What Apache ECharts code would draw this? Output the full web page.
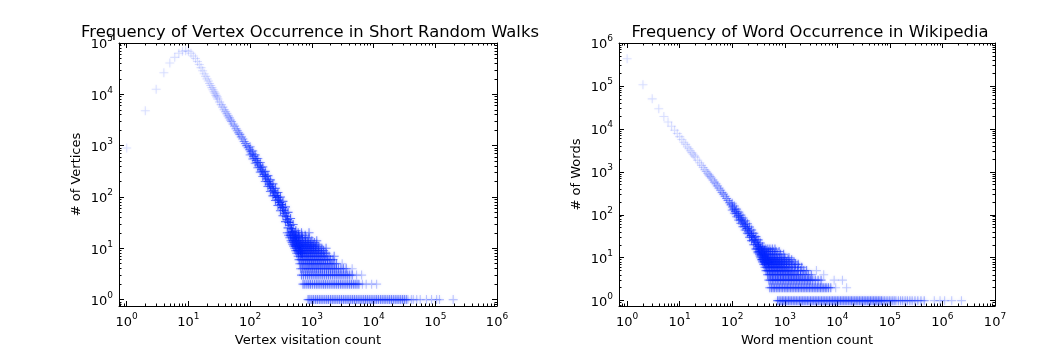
<!DOCTYPE html>
<html><head><meta charset="utf-8">
<script src="https://cdn.jsdelivr.net/npm/echarts@6/dist/echarts.min.js"></script>
<style>html,body{margin:0;padding:0;background:#fff}#c{width:1054px;height:358px}</style>
</head><body><div id="c"></div><script>
// ---------------- DATA ----------------
const walkTitle = 'Frequency of Vertex Occurrence in Short Random Walks';
const walkXName = 'Vertex visitation count';
const walkYName = '# of Vertices';
const wikiTitle = 'Frequency of Word Occurrence in Wikipedia';
const wikiXName = 'Word mention count';
const wikiYName = '# of Words';

const walkXTicks = [1, 10, 100, 1000, 10000, 100000, 1000000];
const walkYTicks = [1, 10, 100, 1000, 10000, 100000];
const wikiXTicks = [1, 10, 100, 1000, 10000, 100000, 1000000, 10000000];
const wikiYTicks = [1, 10, 100, 1000, 10000, 100000, 1000000];

// main curve: [visitation count, number of vertices]
const walkCurve = [[1,900],[2,4800],[3,12600],[4,26300],[5,40700],[6,52500],[7,63000],[8,69000],[9,70800],[10,69000],
[11,63000],[12,56000],[13,50000],[14,43600],[15,38000],[16,33100],[17,28800],[18,25100],[19,22400],[20,20000],
[21,18200],[22,16200],[23,14800],[24,13500],[25,12300],[26,11200],[27,10500],[28,9550],[29,8900],[30,8130],
[32,7080],[34,6300],[36,5620],[38,5010],[40,4570],[42,4170],[44,3800],[46,3470],[48,3160],[50,2950],
[53,2630],[56,2400],[59,2140],[62,1950],[65,1780],[68,1660],[72,1480],[76,1350],[80,1200],[84,1100],
[88,1000],[93,912],[98,832],[103,759],[108,692],[114,617],[120,562],[126,513],[132,468],[139,417],
[146,380],[153,339],[161,309],[169,275],[178,251],[187,224],[196,200],[206,178],[216,162],[227,148],
[238,132],[250,120],[262,107],[275,98],[289,87],[303,78],[318,71],[334,62],[350,55],[367,48],
[385,42],[404,36],[424,32],[445,28],[467,24],[490,21],[514,18],[540,16],[567,14],[595,12],
[625,11],[656,9],[690,8]];
const walkSpread = [[100,950],[100,660],[110,790],[110,550],[121,660],[121,455],[133,560],[133,370],[146,470],[146,305],
[160,385],[160,250],[176,315],[176,200],[194,260],[194,160],[213,215],[213,128],[234,180],[234,105],
[257,148],[257,85],[282,122],[282,68],[310,100],[310,54],[340,82],[340,43],[374,64],[374,33],
[411,50],[411,25],[452,38],[452,18],[497,29],[497,14],[550,22],[550,11],[610,17],[610,9]];
// horizontal streaks at small integer counts: x positions per level
const walkBand1 = [870,930,1000,1070,1150,1230,1320,1410,1510,1620,1740,1860,2000,2140,2290,2450,2630,2820,3020,3240,
3470,3720,3980,4270,4570,4900,5250,5620,6030,6460,6920,7410,7940,8510,9120,9770,10500,11200,12000,12900,
13800,14800,15800,17000,18200,19500,20900,22400,24000,25700,27500,29500,31600,33900];
const walkBand2 = [720,770,830,890,950,1020,1100,1180,1260,1350,1450,1550,1660,1780,1910,2050,2200,2350,2520,2700,
2900,3100,3320,3560,3810,4090,4380,4700,5030,5390,5780];
const walkBand3 = [680,730,790,850,910,980,1050,1130,1210,1300,1400,1500,1610,1730,1860,2000,2150,2310,2480,2660,
2860,3070,3300,3550,3810,4100,4500];
const walkBand4 = [660,710,770,830,890,960,1030,1110,1190,1280,1380,1480,1600,1720,1850,1990,2140,2300,2480,2700,2950,3250,3600];
const walkBand5 = [640,690,740,800,860,920,990,1060,1140,1230,1320,1420,1530,1650,1780,1920,2100,2300,2500];
const walkBand6 = [620,670,720,780,840,900,970,1040,1120,1210,1300,1400,1520,1650,1800,2000,2200];
const walkBand7 = [600,650,700,750,810,870,940,1010,1090,1170,1260,1360,1470,1600,1750,1900,2300];
const walkBand8 = [570,610,660,710,770,830,890,960,1040,1120,1210,1310,1430,1560,1700];
const walkBand9 = [550,590,640,690,740,800,860,930,1000,1080,1170,1270,1400,1550];
const walkBand10 = [530,570,620,670,720,780,840,910,980,1060,1150,1270,1450,1700];
const walkBand11 = [510,550,600,650,700,760,820,890,960,1050,1150,1300];
const walkBand12 = [490,530,575,620,670,730,790,860,940,1050,1200];
const walkBand13 = [480,520,560,610,660,720,790,870,960,1100];
const walkBand14 = [460,500,545,590,640,700,770,860,1000,1200];
const walkBand16 = [440,480,520,570,630,700,800,900];
const walkBand18 = [420,460,500,550,610,690,780];
const walkBand20 = [400,440,480,530,600,680,900];
const walkTail = [[36000,1],[41000,1],[44000,1],[50000,1],[57000,1],[72000,1],[87000,1],[105000,1],[117000,1],[195000,1],
[6600,2],[7600,2],[9300,2],[11200,2],[5300,3],[6400,3],[4500,4],[3100,5]];

const wikiCurve = [[1,430000],[2,107000],[3,50000],[4,29500],[5,19500],[6,14500],[7,11500],[8,9300],[9,7800],[10,6600],
[11,5650],[12,4900],[13,4350],[14,3800],[15,3450],[16,3100],[17,2800],[18,2570],[19,2350],[20,2190],
[22,1860],[24,1620],[26,1410],[28,1260],[30,1120],[32,1020],[34,930],[36,850],[38,780],[40,720],
[43,645],[46,575],[49,525],[52,470],[56,417],[60,372],[64,331],[68,302],[73,269],[78,240],
[83,214],[89,190],[95,170],[101,151],[108,135],[115,120],[123,107],[131,95],[140,85],[149,76],
[159,68],[169,60],[180,54],[192,48],[205,42],[218,37],[232,33],[247,30],[263,26],[280,23],
[298,20],[317,18],[338,16],[360,14],[383,13],[408,11],[434,10],[462,9],[492,8]];
const wikiSpread = [[100,185],[100,128],[110,160],[110,108],[121,135],[121,90],[133,115],[133,75],[146,98],[146,63],
[160,84],[160,53],[176,72],[176,44],[194,62],[194,37],[213,52],[213,30],[234,44],[234,25],
[257,37],[257,20],[282,31],[282,16],[310,26],[310,13],[340,22],[340,11],[374,18],[374,9],[410,15],[410,8]];
const wikiBand1 = [730,780,840,900,960,1030,1100,1180,1260,1350,1450,1550,1660,1780,1910,2040,2190,2340,2510,2690,
2880,3090,3310,3550,3800,4070,4360,4670,5010,5370,5750,6160,6600,7080,7590,8130,8710,9330,10000,10700,
11500,12300,13200,14100,15100,16200,17400,18600,19900,21400,22900,24500,26300,28200,30200,32400,34700,37200,39800,42700,
45700,49000,52500,56200,60300,64600,69200];
const wikiBand2 = [520,560,600,640,690,740,790,850,910,980,1050,1120,1200,1290,1380,1480,1590,1700,1820,1950,
2090,2240,2400,2570,2750,2950,3160,3390,3630,3890,4170,4470,4790,5130,5500,5900,6300,6800,7500];
const wikiBand3 = [500,540,580,620,670,720,770,830,890,950,1020,1100,1180,1260,1350,1450,1550,1660,1780,1910,
2050,2200,2360,2530,2710,2900,3100,3400,3800,4300,4900];
const wikiBand4 = [470,505,540,580,620,670,720,770,830,890,950,1020,1100,1180,1260,1350,1450,1560,1680,1820,2000,2200,2450,2800,3200];
const wikiBand5 = [440,475,510,550,590,630,680,730,780,840,900,970,1040,1120,1200,1300,1420,1560,1750,2000,2300,2600];
const wikiBand6 = [420,450,485,520,560,600,645,690,740,800,860,930,1000,1090,1200,1350,1550,1800,2100];
const wikiBand7 = [400,430,460,495,530,570,610,660,710,760,820,890,970,1070,1200,1380,1600,1800];
const wikiBand8 = [380,410,440,475,510,550,590,635,685,740,800,870,960,1080,1250,1500];
const wikiBand9 = [365,395,425,455,490,525,565,610,660,720,790,880,1000,1150,1350];
const wikiBand10 = [350,380,410,440,470,505,545,590,640,700,780,880,1000,1200];
const wikiBand12 = [330,355,385,415,450,490,530,580,640,720,830,950];
const wikiBand14 = [310,335,360,390,420,455,495,540,600,680,780];
const wikiBand16 = [295,320,345,370,400,435,475,520,580,650];
const wikiTailNear = [[74000,1],[79000,1],[85000,1],[91000,1],[98000,1],[105000,1],[113000,1],[121000,1],[130000,1],[145000,1],
[160000,1],[175000,1],[195000,1],[215000,1],[240000,1],[265000,1],[300000,1],[340000,1],[390000,1],[450000,1]];
const wikiTailFar = [[700000,1],[900000,1],[1100000,1],[1500000,1],[2300000,1],
[9300,2],[15000,2],[8700,3],[12500,3],[5500,4],[4000,5]];

const walkBands = [[1,walkBand1],[2,walkBand2],[3,walkBand3],[4,walkBand4],[5,walkBand5],[6,walkBand6],[7,walkBand7],
[8,walkBand8],[9,walkBand9],[10,walkBand10],[11,walkBand11],[12,walkBand12],[13,walkBand13],[14,walkBand14],
[16,walkBand16],[18,walkBand18],[20,walkBand20]];
const wikiBands = [[1,wikiBand1],[2,wikiBand2],[3,wikiBand3],[4,wikiBand4],[5,wikiBand5],[6,wikiBand6],[7,wikiBand7],
[8,wikiBand8],[9,wikiBand9],[10,wikiBand10],[12,wikiBand12],[14,wikiBand14],[16,wikiBand16]];

// ---------------- RENDER ----------------
const FONT = 'DejaVu Sans';
const BLUE = '#0a2cff';
const PLUS = 'path://M0,4.4L10,4.4L10,5.6L0,5.6ZM4.4,0L5.6,0L5.6,10L4.4,10Z';
const densityAlpha = x => Math.min(0.85, 1 - Math.pow(0.87, Math.max(1, x / 20)));

function bandPoints(bands) {
  const out = [];
  bands.forEach(([lvl, xs]) => xs.forEach(x => out.push([x, lvl])));
  return out;
}
function minorValues(min, max) {
  const v = [];
  for (let e = -1; e <= 8; e++) for (let k = 2; k <= 9; k++) {
    const t = k * Math.pow(10, e);
    if (t > min && t < max) v.push(t);
  }
  return v;
}
const rich = {
  b: { fontFamily: FONT, fontSize: 13, color: '#000', lineHeight: 17, verticalAlign: 'bottom' },
  e: { fontFamily: FONT, fontSize: 9, color: '#000', lineHeight: 17, verticalAlign: 'top' }
};
function labelFmt(ticks) {
  return v => {
    const hit = ticks.find(t => Math.abs(Math.log10(t) - Math.log10(v)) < 1e-6);
    if (!hit) return '';
    return '{b|10}{e|' + Math.round(Math.log10(hit)) + '}';
  };
}

const xAxes = [], yAxes = [];
function addAxes(list, gi, min, max, ticks, name, isX, gap) {
  const pos = isX ? ['bottom', 'top'] : ['left', 'right'];
  const first = list.length;
  pos.forEach((p, pi) => {
    list.push({
      type: 'log', logBase: 10, gridIndex: gi, position: p, min: min, max: max,
      name: pi === 0 ? name : '', nameLocation: 'middle', nameGap: gap,
      nameTextStyle: { fontFamily: FONT, fontSize: 13, color: '#000' },
      axisLine: { show: true, onZero: false, lineStyle: { color: '#000', width: 1 } },
      axisTick: { show: true, inside: true, length: 5, lineStyle: { color: '#000', width: 1 } },
      axisLabel: { show: pi === 0, formatter: labelFmt(ticks), rich: rich, margin: 6, hideOverlap: false },
      splitLine: { show: false }, minorTick: { show: false }
    });
    list.push({
      type: 'log', logBase: 10, gridIndex: gi, position: p, min: min, max: max,
      axisLine: { show: false },
      axisTick: { show: true, inside: true, length: 2.5, customValues: minorValues(min, max), lineStyle: { color: '#000', width: 1 } },
      axisLabel: { show: false }, splitLine: { show: false }
    });
  });
  return first;
}
const wxi = addAxes(xAxes, 0, 0.75, 1e6, walkXTicks, walkXName, true, 27);
const wyi = addAxes(yAxes, 0, 0.75, 1e5, walkYTicks, walkYName, false, 36);
const kxi = addAxes(xAxes, 1, 0.7, 1e7, wikiXTicks, wikiXName, true, 27);
const kyi = addAxes(yAxes, 1, 0.75, 1e6, wikiYTicks, wikiYName, false, 36);

function scatter(xi, yi, points, alphaFn) {
  return {
    type: 'scatter', xAxisIndex: xi, yAxisIndex: yi, symbol: PLUS, symbolSize: 9, silent: true,
    data: points.map(p => ({ value: p, itemStyle: { opacity: alphaFn(p[0]) } })),
    itemStyle: { color: BLUE, shadowBlur: 3, shadowColor: 'rgba(20,50,255,0.45)' }
  };
}
const softer = x => densityAlpha(x) * 0.7;

const chart = echarts.init(document.getElementById('c'), null, { renderer: 'canvas' });
chart.setOption({
  animation: false,
  backgroundColor: '#fff',
  title: [
    { text: walkTitle, left: 305, top: 20, textAlign: 'center', textStyle: { fontFamily: FONT, fontSize: 16.4, fontWeight: 'normal', color: '#000' } },
    { text: wikiTitle, left: 805, top: 20, textAlign: 'center', textStyle: { fontFamily: FONT, fontSize: 16.4, fontWeight: 'normal', color: '#000' } }
  ],
  grid: [
    { left: 119, top: 43, width: 378, height: 263 },
    { left: 619, top: 43, width: 376, height: 263 }
  ],
  xAxis: xAxes,
  yAxis: yAxes,
  series: [
    scatter(wxi, wyi, walkCurve, densityAlpha),
    scatter(wxi, wyi, walkSpread, softer),
    scatter(wxi, wyi, bandPoints(walkBands), () => 0.5),
    scatter(wxi, wyi, walkTail, () => 0.25),
    scatter(kxi, kyi, wikiCurve, densityAlpha),
    scatter(kxi, kyi, wikiSpread, softer),
    scatter(kxi, kyi, bandPoints(wikiBands), () => 0.5),
    scatter(kxi, kyi, wikiTailNear, () => 0.35),
    scatter(kxi, kyi, wikiTailFar, () => 0.22)
  ]
});
</script></body></html>
